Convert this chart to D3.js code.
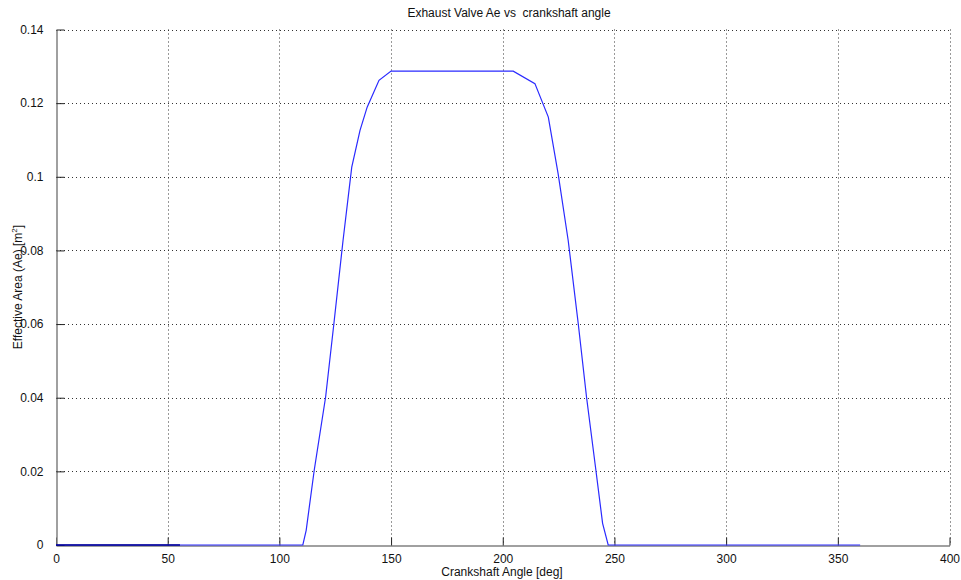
<!DOCTYPE html>
<html><head><meta charset="utf-8">
<script src="https://cdn.jsdelivr.net/npm/d3@7"></script>
<style>body{margin:0;background:#fff}svg{display:block}text{font-family:"Liberation Sans",Arial,sans-serif}</style>
</head><body><svg id="c" width="961" height="580"></svg>
<script>
const angles = [0, 110.5, 112, 115.6, 120.7, 124.4, 128.5, 132.4, 136.1, 139.3, 144.6, 150, 204.7, 214.4, 220.4, 224.8, 229.3, 233.8, 237.5, 241.7, 244.7, 247.2, 360];
const areas  = [0, 0, 0.004, 0.0203, 0.0402, 0.0601, 0.0827, 0.1026, 0.1126, 0.1189, 0.1262, 0.1287, 0.1287, 0.1253, 0.1162, 0.1008, 0.0827, 0.0601, 0.0402, 0.0203, 0.0059, 0, 0];
const darkAngles = [0, 55.5];
const darkAreas = [0, 0];
const xTicks = [0, 50, 100, 150, 200, 250, 300, 350, 400];
const yTicks = [0, 0.02, 0.04, 0.06, 0.08, 0.1, 0.12, 0.14];
const yTickLabels = ["0", "0.02", "0.04", "0.06", "0.08", "0.1", "0.12", "0.14"];

const svg = d3.select("#c");
const L = 56, R = 949.5, T = 29.5, B = 545;
const x = d3.scaleLinear().domain([0, 400]).range([L, R]);
const y = d3.scaleLinear().domain([0, 0.14]).range([B, T]);

// grid
const g = svg.append("g");
g.selectAll("line.gx").data(xTicks.slice(1)).join("line")
  .attr("x1", d => Math.round(x(d)) + 0.5).attr("x2", d => Math.round(x(d)) + 0.5)
  .attr("y1", T).attr("y2", B)
  .attr("stroke", "#333").attr("stroke-width", 1).attr("stroke-dasharray", "1,3");
g.selectAll("line.gy").data(yTicks.slice(1)).join("line")
  .attr("y1", d => Math.round(y(d)) + 0.5).attr("y2", d => Math.round(y(d)) + 0.5)
  .attr("x1", L).attr("x2", R)
  .attr("stroke", "#333").attr("stroke-width", 1).attr("stroke-dasharray", "1,3");

// axes
const xAxis = d3.axisBottom(x).tickValues(xTicks).tickSizeInner(-8).tickSizeOuter(0).tickPadding(14);
const yAxis = d3.axisLeft(y).tickValues(yTicks).tickFormat((d, i) => yTickLabels[i]).tickSizeInner(-8).tickSizeOuter(0).tickPadding(13);
const gx = svg.append("g").attr("transform", `translate(0,${B + 0.5})`).call(xAxis);
const gy = svg.append("g").attr("transform", `translate(${L + 0.5},0)`).call(yAxis);
[gx, gy].forEach(a => {
  a.select(".domain").attr("stroke", "#808080").attr("stroke-width", 1.5);
  a.selectAll(".tick line").attr("stroke", "#222");
  a.selectAll(".tick text").attr("font-size", 12).attr("fill", "#111").attr("font-family", "'Liberation Sans', Arial, sans-serif");
});
gx.selectAll(".tick text").attr("dy", "0.3em");

// line
const line = d3.line().x(d => x(d[0])).y(d => y(d[1]));
svg.append("path").datum(angles.map((a, i) => [a, areas[i]]))
  .attr("d", line).attr("fill", "none").attr("stroke", "#2a2aff").attr("stroke-width", 1.2);
svg.append("path").datum(darkAngles.map((a, i) => [a, darkAreas[i]]))
  .attr("d", line).attr("fill", "none").attr("stroke", "#000090").attr("stroke-width", 1.5);

// texts
svg.append("text").attr("x", 509).attr("y", 17).attr("text-anchor", "middle")
  .attr("font-size", 12).attr("fill", "#111").style("white-space", "pre")
  .text("Exhaust Valve Ae vs  crankshaft angle");
svg.append("text").attr("x", 502).attr("y", 576).attr("text-anchor", "middle")
  .attr("font-size", 12).attr("fill", "#111").text("Crankshaft Angle [deg]");
const yl = svg.append("text").attr("transform", "translate(22,287) rotate(-90)").attr("text-anchor", "middle")
  .attr("font-size", 12).attr("fill", "#111");
yl.append("tspan").text("Effective Area (Ae) [m");
yl.append("tspan").attr("font-size", 8).attr("dy", -5).text("2");
yl.append("tspan").attr("dy", 5).text("]");
</script></body></html>
